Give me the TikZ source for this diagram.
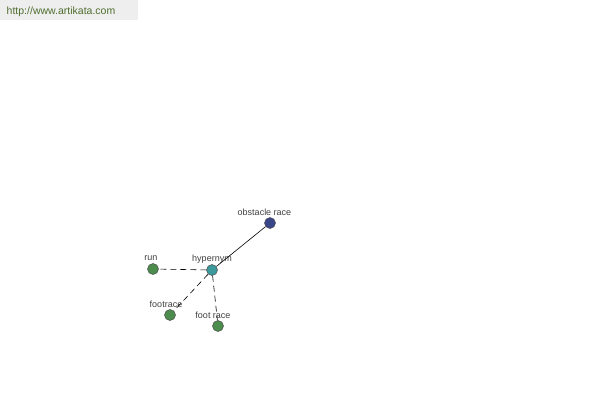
\documentclass[tikz,border=0pt]{standalone}
\usepackage{fontspec}
\setmainfont{Liberation Sans}
\usepackage{tikz}
\usetikzlibrary{positioning}
\definecolor{ArtGreen}{HTML}{4C8C4C}
\definecolor{ArtTeal}{HTML}{3C9A9C}
\definecolor{ArtBlue}{HTML}{3A468A}
\definecolor{ArtText}{HTML}{4F6E2E}
\definecolor{ArtGrey}{HTML}{EEEEEE}

\begin{document}
\begin{tikzpicture}[x=1pt, y=-1pt,
  word/.style={circle, draw=black!70, line width=0.5pt, minimum size=11pt, inner sep=0pt},
  wordlabel/.style={font=\fontsize{9}{10}\selectfont, text=black!75, inner sep=1pt},
  link/.style={line width=0.6pt, black},
  dashlink/.style={link, dash pattern=on 6pt off 4pt}]
  \useasboundingbox (0,0) rectangle (600,400);

  % Header
  \fill[ArtGrey] (0,0) rectangle (138,20);
  \node[font=\fontsize{10.5}{12}\selectfont, text=ArtText] (site) at (61,11.5) {http://www.artikata.com};

  % Word nodes
  \node[word, fill=ArtTeal] (hypernym) at (212,270) {};
  \node[word, fill=ArtBlue] (obstacle) at (270,223) {};
  \node[word, fill=ArtGreen] (run) at (153,269) {};
  \node[word, fill=ArtGreen] (footrace) at (170,315) {};
  \node[word, fill=ArtGreen] (footrace2) at (218,326) {};

  % Labels
  \node[wordlabel] (hypernymlabel) at (212,259) {hypernym};
  \node[wordlabel] (obstaclelabel) at (264.5,212) {obstacle race};
  \node[wordlabel] (runlabel) at (151,258) {run};
  \node[wordlabel] (footracelabel) at (166,304) {footrace};
  \node[wordlabel] (footrace2label) at (213,315) {foot race};

  % Links
  \draw[link] (hypernym) -- (obstacle);
  \draw[dashlink] (hypernym) -- (run);
  \draw[dashlink] (hypernym) -- (footrace);
  \draw[dashlink] (hypernym) -- (footrace2);
\end{tikzpicture}
\end{document}
